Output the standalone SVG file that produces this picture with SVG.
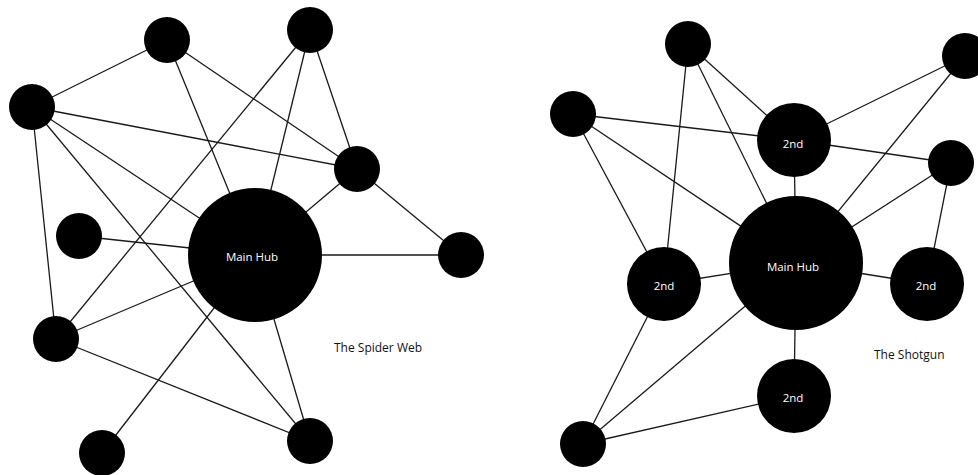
<svg xmlns="http://www.w3.org/2000/svg" width="978" height="475" viewBox="0 0 978 475">
  <style>
    .edge { stroke: #1a1a1a; stroke-width: 1.3; fill: none; }
    .node { fill: #000; }
    .lbl { fill: #fff; font-family: "Open Sans", "Liberation Sans", sans-serif; font-size: 11.5px; text-anchor: middle; }
    .cap { fill: #111; font-family: "Open Sans", "Liberation Sans", sans-serif; font-size: 12px; }
  </style>
  <rect width="978" height="475" fill="#fff"/>

  <!-- Spider web connectors -->
  <g id="web-edges" class="edge">
    <line x1="32" y1="107" x2="167" y2="40"/>
    <line x1="32" y1="107" x2="357" y2="169"/>
    <line x1="32" y1="107" x2="255" y2="255"/>
    <line x1="32" y1="107" x2="310" y2="441"/>
    <line x1="32" y1="107" x2="56" y2="339"/>
    <line x1="167" y1="40" x2="255" y2="255"/>
    <line x1="167" y1="40" x2="357" y2="169"/>
    <line x1="310" y1="30" x2="56" y2="339"/>
    <line x1="310" y1="30" x2="255" y2="255"/>
    <line x1="310" y1="30" x2="357" y2="169"/>
    <line x1="357" y1="169" x2="255" y2="255"/>
    <line x1="357" y1="169" x2="461" y2="255"/>
    <line x1="79" y1="236" x2="255" y2="255"/>
    <line x1="255" y1="255" x2="461" y2="255"/>
    <line x1="56" y1="339" x2="255" y2="255"/>
    <line x1="56" y1="339" x2="310" y2="441"/>
    <line x1="255" y1="255" x2="102" y2="453"/>
    <line x1="255" y1="255" x2="310" y2="441"/>
  </g>

  <!-- Shotgun connectors -->
  <g id="shotgun-edges" class="edge">
    <line x1="573" y1="114" x2="794" y2="140"/>
    <line x1="573" y1="114" x2="796" y2="263"/>
    <line x1="573" y1="114" x2="664" y2="284"/>
    <line x1="688" y1="44" x2="664" y2="284"/>
    <line x1="688" y1="44" x2="796" y2="263"/>
    <line x1="688" y1="44" x2="794" y2="140"/>
    <line x1="794" y1="140" x2="965" y2="56"/>
    <line x1="965" y1="56" x2="796" y2="263"/>
    <line x1="794" y1="140" x2="951" y2="163"/>
    <line x1="794" y1="140" x2="796" y2="263"/>
    <line x1="951" y1="163" x2="796" y2="263"/>
    <line x1="951" y1="163" x2="927" y2="284"/>
    <line x1="664" y1="284" x2="796" y2="263"/>
    <line x1="796" y1="263" x2="927" y2="284"/>
    <line x1="796" y1="263" x2="794" y2="396"/>
    <line x1="664" y1="284" x2="583" y2="444"/>
    <line x1="796" y1="263" x2="583" y2="444"/>
    <line x1="794" y1="396" x2="583" y2="444"/>
  </g>

  <!-- Spider web nodes -->
  <g id="web-hub"><circle class="node" cx="255" cy="255" r="67"/><text class="lbl" x="252" y="261">Main Hub</text></g>
  <g id="web-a"><circle class="node" cx="32" cy="107" r="23"/></g>
  <g id="web-b"><circle class="node" cx="167" cy="40" r="23"/></g>
  <g id="web-c"><circle class="node" cx="310" cy="30" r="23"/></g>
  <g id="web-d"><circle class="node" cx="357" cy="169" r="23"/></g>
  <g id="web-e"><circle class="node" cx="79" cy="236" r="23"/></g>
  <g id="web-f"><circle class="node" cx="461" cy="255" r="23"/></g>
  <g id="web-g"><circle class="node" cx="56" cy="339" r="23"/></g>
  <g id="web-h"><circle class="node" cx="102" cy="453" r="23"/></g>
  <g id="web-i"><circle class="node" cx="310" cy="441" r="23"/></g>
  <text class="cap" x="334" y="352">The Spider Web</text>

  <!-- Shotgun nodes -->
  <g id="shot-hub"><circle class="node" cx="796" cy="263" r="67"/><text class="lbl" x="793" y="271">Main Hub</text></g>
  <g id="shot-2nd-top"><circle class="node" cx="794" cy="140" r="37"/><text class="lbl" x="793" y="148">2nd</text></g>
  <g id="shot-2nd-left"><circle class="node" cx="664" cy="284" r="37"/><text class="lbl" x="664" y="290">2nd</text></g>
  <g id="shot-2nd-right"><circle class="node" cx="927" cy="284" r="37"/><text class="lbl" x="926" y="290">2nd</text></g>
  <g id="shot-2nd-bottom"><circle class="node" cx="794" cy="396" r="37"/><text class="lbl" x="793" y="402">2nd</text></g>
  <g id="shot-r1"><circle class="node" cx="688" cy="44" r="23"/></g>
  <g id="shot-r2"><circle class="node" cx="965" cy="56" r="23"/></g>
  <g id="shot-r3"><circle class="node" cx="573" cy="114" r="23"/></g>
  <g id="shot-r4"><circle class="node" cx="951" cy="163" r="23"/></g>
  <g id="shot-r5"><circle class="node" cx="583" cy="444" r="23"/></g>
  <text class="cap" x="874" y="359">The Shotgun</text>
</svg>
